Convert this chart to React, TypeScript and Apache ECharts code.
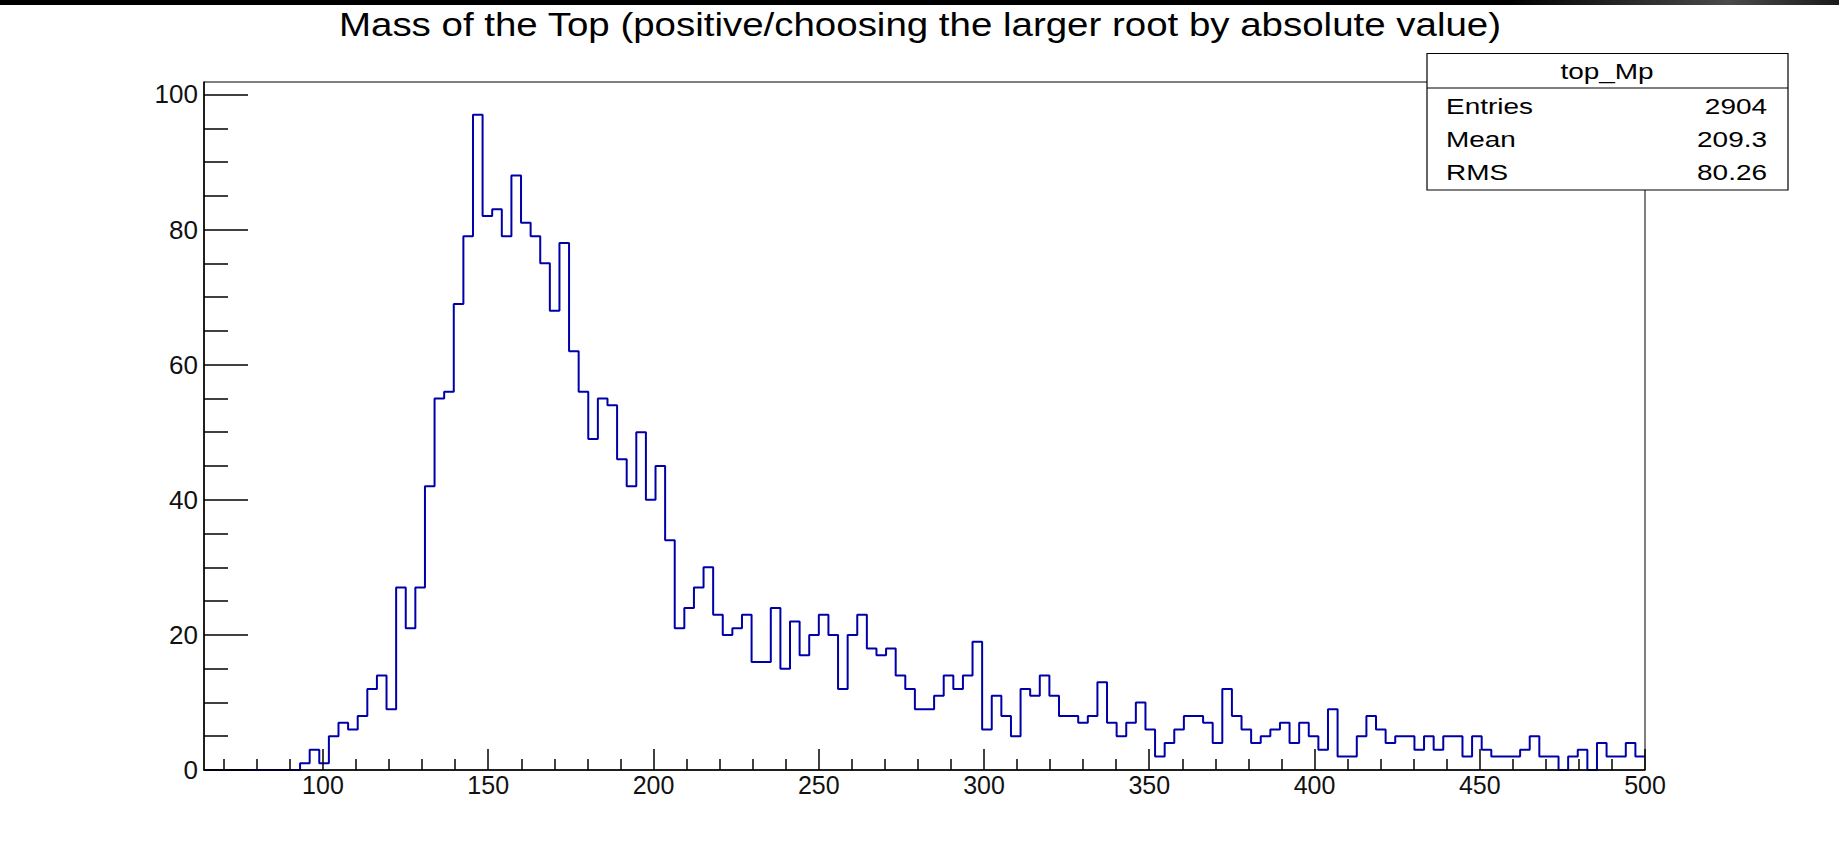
import React, { useEffect, useRef } from "react";
import * as echarts from "echarts";

// Histogram of the reconstructed top mass: 150 equal bins over [64, 500]
const xMin = 64;
const xMax = 500;
const binCounts = [
  0, 0, 0, 0, 0, 0, 0, 0, 0, 0,
  1, 3, 1, 5, 7, 6, 8, 12, 14, 9, 27, 21, 27, 42, 55, 56, 69, 79, 97, 82, 83, 79, 88, 81,
  79, 75, 68, 78,
  62, 56, 49, 55, 54, 46, 42, 50, 40, 45, 34, 21, 24, 27, 30, 23, 20, 21, 23,
  16, 16, 24, 15, 22, 17, 20, 23, 20, 12, 20, 23, 18, 17, 18, 14, 12, 9, 9, 11, 14, 12, 14,
  19, 6, 11, 8, 5, 12, 11, 14, 11, 8, 8, 7, 8, 13, 7, 5, 7, 10, 6, 2, 4, 6, 8,
  8, 7, 4, 12, 8, 6, 4, 5, 6, 7, 4, 7, 5, 3, 9, 2, 2, 5, 8, 6, 4, 5, 5,
  3, 5, 3, 5, 5, 2, 5, 3, 2, 2, 2, 3, 5, 2, 2, 0, 2, 3, 0, 4, 2, 2, 4, 2,
];

const yMax = 101.85;
const xMajorTicks = [100, 150, 200, 250, 300, 350, 400, 450, 500];
const xMinorTicks = [
  70, 80, 90, 110, 120, 130, 140, 160, 170, 180, 190, 210, 220, 230, 240,
  260, 270, 280, 290, 310, 320, 330, 340, 360, 370, 380, 390, 410, 420, 430, 440,
  460, 470, 480, 490,
];
const yMajorTicks = [0, 20, 40, 60, 80, 100];
const yMinorTicks = [5, 10, 15, 25, 30, 35, 45, 50, 55, 65, 70, 75, 85, 90, 95];

const titleText = "Mass of the Top (positive/choosing the larger root by absolute value)";
const statsName = "top_Mp";
const statsLabels = ["Entries", "Mean", "RMS"];
const statsValues = ["2904", "209.3", "80.26"];

const FONT = "'Liberation Sans', Arial, Helvetica, sans-serif";

export default function App() {
  const ref = useRef<HTMLDivElement>(null);

  useEffect(() => {
    if (!ref.current) return;
    const chart = echarts.init(ref.current, undefined, { renderer: "svg" });

    const binWidth = (xMax - xMin) / binCounts.length;
    const stepData: number[][] = binCounts.map((c, i) => [xMin + i * binWidth, c]);
    stepData.push([xMax, binCounts[binCounts.length - 1]]);

    const tickStyle = { color: "#000", width: 1.5 };
    const labelStyle = { color: "#111", fontFamily: FONT };

    const statsRows: any[] = [];
    statsLabels.forEach((lab, i) => {
      const cy = 106.3 + i * 33;
      statsRows.push({
        type: "text",
        x: 1446,
        y: cy,
        scaleX: 1.3,
        z: 101,
        style: { text: lab, fontFamily: FONT, fontSize: 21.5, fill: "#000", align: "left", verticalAlign: "middle" },
      });
      statsRows.push({
        type: "text",
        x: 1767,
        y: cy,
        scaleX: 1.3,
        z: 101,
        style: { text: statsValues[i], fontFamily: FONT, fontSize: 21.5, fill: "#000", align: "right", verticalAlign: "middle" },
      });
    });

    chart.setOption({
      animation: false,
      backgroundColor: "#fff",
      grid: {
        left: 204,
        right: 194,
        top: 82,
        bottom: 90,
        show: true,
        borderColor: "#000",
        borderWidth: 1,
        backgroundColor: "transparent",
      },
      xAxis: [
        {
          type: "value",
          min: xMin,
          max: xMax,
          position: "bottom",
          z: 5,
          axisLine: { show: true, lineStyle: tickStyle },
          axisTick: { show: true, inside: true, length: 21, customValues: xMajorTicks, lineStyle: tickStyle },
          axisLabel: { customValues: xMajorTicks, margin: 2, fontSize: 25, ...labelStyle },
          splitLine: { show: false },
        },
        {
          type: "value",
          min: xMin,
          max: xMax,
          position: "bottom",
          z: 5,
          axisLine: { show: false },
          axisTick: { show: true, inside: true, length: 11, customValues: xMinorTicks, lineStyle: tickStyle },
          axisLabel: { show: false },
          splitLine: { show: false },
        },
      ],
      yAxis: [
        {
          type: "value",
          min: 0,
          max: yMax,
          position: "left",
          z: 5,
          axisLine: { show: true, lineStyle: tickStyle },
          axisTick: { show: true, inside: true, length: 44, customValues: yMajorTicks, lineStyle: tickStyle },
          axisLabel: { customValues: yMajorTicks, margin: 6, fontSize: 26, ...labelStyle },
          splitLine: { show: false },
        },
        {
          type: "value",
          min: 0,
          max: yMax,
          position: "left",
          z: 5,
          axisLine: { show: false },
          axisTick: { show: true, inside: true, length: 24, customValues: yMinorTicks, lineStyle: tickStyle },
          axisLabel: { show: false },
          splitLine: { show: false },
        },
      ],
      series: [
        {
          type: "line",
          name: statsName,
          xAxisIndex: 0,
          yAxisIndex: 0,
          step: "end",
          data: stepData,
          showSymbol: false,
          symbol: "none",
          lineStyle: { color: "#0000a8", width: 2 },
          z: 2,
        },
      ],
      graphic: [
        {
          type: "rect",
          shape: { x: 0, y: 0, width: 1839, height: 5 },
          z: 100,
          style: {
            fill: new echarts.graphic.LinearGradient(0, 0, 1, 0, [
              { offset: 0, color: "#000" },
              { offset: 0.82, color: "#000" },
              { offset: 0.94, color: "#4a4a4a" },
              { offset: 1, color: "#1a1a1a" },
            ]),
          },
        },
        {
          type: "text",
          x: 920,
          y: 24.8,
          scaleX: 1.18,
          z: 100,
          style: { text: titleText, fontFamily: FONT, fontSize: 32.6, fill: "#000", align: "center", verticalAlign: "middle" },
        },
        {
          type: "rect",
          shape: { x: 1427, y: 53.5, width: 361, height: 136.5 },
          z: 100,
          style: { fill: "#fff", stroke: "#000", lineWidth: 1.2 },
        },
        {
          type: "line",
          shape: { x1: 1427, y1: 88, x2: 1788, y2: 88 },
          z: 101,
          style: { stroke: "#000", lineWidth: 1.2 },
        },
        {
          type: "text",
          x: 1607,
          y: 71.6,
          scaleX: 1.3,
          z: 101,
          style: { text: statsName, fontFamily: FONT, fontSize: 21.5, fill: "#000", align: "center", verticalAlign: "middle" },
        },
        ...statsRows,
      ],
    });

    return () => chart.dispose();
  }, []);

  return (
    <div
      ref={ref}
      style={{ position: "absolute", left: 0, top: 0, width: 1839, height: 860, background: "#fff" }}
    />
  );
}
